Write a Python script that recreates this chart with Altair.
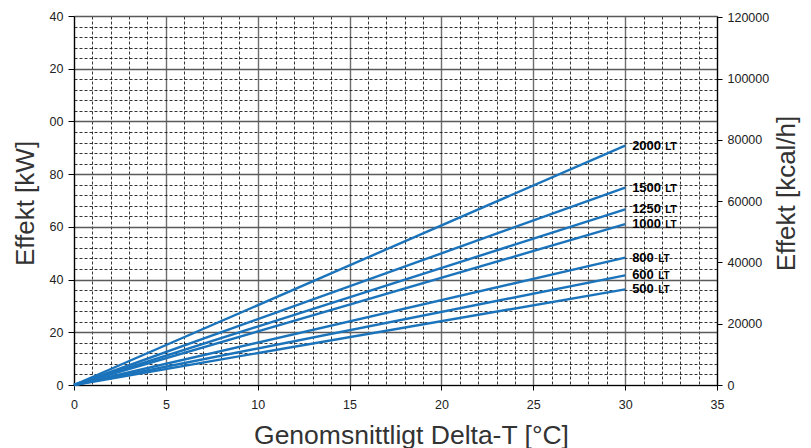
import altair as alt
import pandas as pd

# ---- data ----
series = ["2000", "1500", "1250", "1000", "800", "600", "500"]
end_kw = [90.8, 74.9, 66.6, 61.0, 48.3, 41.6, 36.3]
x_start = 0
x_end = 30
x_ticks = list(range(0, 36))
y_ticks = list(range(0, 141, 4))
kcal_ticks = [0, 20000, 40000, 60000, 80000, 100000, 120000]
KCAL_PER_KW = 860

rows = []
for s, v in zip(series, end_kw):
    rows.append({"series": s, "dt": x_start, "kw": 0.0})
    rows.append({"series": s, "dt": x_end, "kw": v})
lines_df = pd.DataFrame(rows)
labels_df = pd.DataFrame({"series": series, "dt": [x_end] * len(series), "kw": end_kw})

FONT = "Liberation Sans"
LINE_COLOR = "#1b74bb"
TITLE_SIZE = 26
LABEL_SIZE = 12.5

major_x = "datum.value % 5 === 0"
major_y = "datum.value % 20 === 0"

x_axis = alt.Axis(
    values=x_ticks,
    title="Genomsnittligt Delta-T [°C]",
    titleFontSize=26.5, titleFont=FONT, titleFontWeight="normal", titleColor="#333333",
    titleX=337, titleY=58, titleBaseline="alphabetic", titleAlign="center",
    labelExpr="datum.value % 5 === 0 ? datum.label : ''",
    labelFont=FONT, labelFontSize=LABEL_SIZE, labelColor="#222222", labelPadding=8,
    labelFlush=False, labelOverlap=False,
    domainColor="#000000", domainWidth=1.2,
    tickColor="#000000", tickSize=5,
    tickOpacity={"condition": {"test": major_x, "value": 1}, "value": 0},
    grid=True,
    gridDash={"condition": {"test": major_x, "value": []}, "value": [3, 2]},
    gridColor={"condition": {"test": major_x, "value": "#6e6e6e"}, "value": "#111111"},
    gridWidth={"condition": {"test": major_x, "value": 1.4}, "value": 0.85},
)

y_axis = alt.Axis(
    values=y_ticks,
    title="Effekt [kW]",
    titleFontSize=TITLE_SIZE, titleFont=FONT, titleFontWeight="normal", titleColor="#333333",
    titleAngle=270, titleX=-41, titleY=187, titleBaseline="alphabetic", titleAlign="center",
    labelExpr="datum.value % 20 === 0 ? (datum.value >= 100 ? substring(datum.label, 1) : datum.label) : ''",
    labelFont=FONT, labelFontSize=LABEL_SIZE, labelColor="#222222", labelPadding=5,
    labelFlush=False, labelOverlap=False,
    domainColor="#000000", domainWidth=1.2,
    tickColor="#000000", tickSize=6,
    tickOpacity={"condition": {"test": major_y, "value": 1}, "value": 0},
    grid=True,
    gridDash={"condition": {"test": major_y, "value": []}, "value": [3, 2]},
    gridColor={"condition": {"test": major_y, "value": "#5a5a5a"}, "value": "#111111"},
    gridWidth={"condition": {"test": major_y, "value": 1.4}, "value": 0.85},
)

kcal_axis = alt.Axis(
    orient="right",
    values=kcal_ticks,
    format="d",
    title="Effekt [kcal/h]",
    titleFontSize=TITLE_SIZE, titleFont=FONT, titleFontWeight="normal", titleColor="#333333",
    titleAngle=270, titleX=77, titleY=177, titleBaseline="alphabetic", titleAlign="center",
    labelFont=FONT, labelFontSize=LABEL_SIZE, labelColor="#222222", labelPadding=5,
    labelFlush=False, labelOverlap=False,
    domainColor="#000000", domainWidth=1.2,
    tickColor="#000000", tickSize=5,
    grid=False,
)

x_scale = alt.Scale(domain=[0, 35], nice=False)
y_scale = alt.Scale(domain=[0, 140], nice=False)

X = alt.X("dt:Q", scale=x_scale, axis=x_axis)
Y = alt.Y("kw:Q", scale=y_scale, axis=y_axis)

lines = alt.Chart(lines_df).mark_line(color=LINE_COLOR, strokeWidth=2.4).encode(
    x=X, y=Y, detail="series:N"
)

nums = alt.Chart(labels_df).mark_text(
    align="left", baseline="middle", dx=7, font=FONT, fontSize=13, fontWeight="bold", color="#000000"
).encode(x=X, y=Y, text="series:N")

lt4 = alt.Chart(labels_df).transform_filter("length(datum.series) === 4").mark_text(
    align="left", baseline="middle", dx=40, dy=1, font=FONT, fontSize=10, fontWeight="bold", color="#000000"
).encode(x=X, y=Y, text=alt.value("LT"))

lt3 = alt.Chart(labels_df).transform_filter("length(datum.series) === 3").mark_text(
    align="left", baseline="middle", dx=33, dy=1, font=FONT, fontSize=10, fontWeight="bold", color="#000000"
).encode(x=X, y=Y, text=alt.value("LT"))

left_part = alt.layer(lines, nums, lt4, lt3)

right_part = alt.Chart(lines_df).transform_calculate(
    kcal=f"datum.kw * {KCAL_PER_KW}"
).mark_line(opacity=0).encode(
    x=X,
    y=alt.Y("kcal:Q", scale=alt.Scale(domain=[0, 140 * KCAL_PER_KW], nice=False), axis=kcal_axis),
    detail="series:N",
)

chart = alt.layer(left_part, right_part).resolve_scale(y="independent").properties(
    width=643,
    height=369,
    autosize=alt.AutoSizeParams(type="none"),
    padding={"left": 66, "top": 8, "right": 86, "bottom": 63},
    background="#ffffff",
).configure_view(stroke=None)

chart.save("out.html", embed_options={"renderer": "svg", "actions": False})
